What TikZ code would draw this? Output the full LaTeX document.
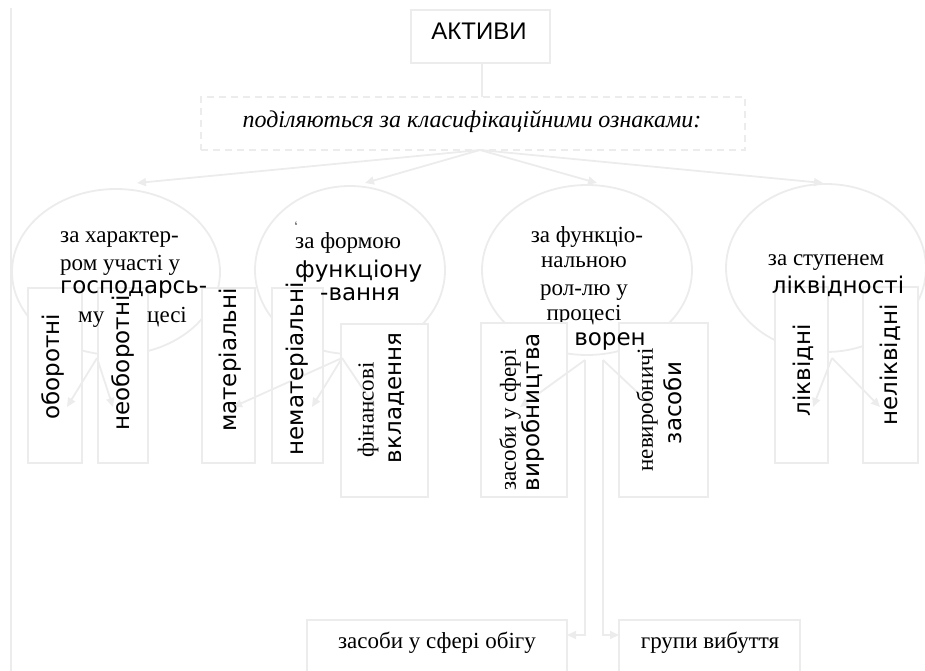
\documentclass[tikz,border=0pt]{standalone}
\usepackage{fontspec}
\setmainfont{Liberation Serif}
\newfontfamily\dvs{DejaVu Sans}
\newfontfamily\lsans{Liberation Sans}
\usetikzlibrary{shapes.geometric,arrows.meta}
\definecolor{lc}{RGB}{236,236,236}
\begin{document}
\begin{tikzpicture}[x=1pt,y=-1pt,
  ln/.style={draw=lc,line width=1.8pt},
  arr/.style={ln,-{Triangle[length=9pt,width=8pt]}},
  bx/.style={draw=lc,line width=1.8pt,fill=white,inner sep=0pt,outer sep=0pt,anchor=north west},
  oval/.style={ellipse,draw=lc,line width=1.8pt,fill=white,inner sep=0pt},
  se/.style={font=\fontsize{23}{26}\selectfont,inner sep=0pt},
  sa/.style={font=\dvs\fontsize{23}{26}\selectfont,inner sep=0pt},
  rt/.style={rotate=90}
]
\useasboundingbox (0,0) rectangle (925,671);
% left faint line
\coordinate (lt) at (11,8);
\coordinate (lb) at (11,671);
\draw[ln] (lt) -- (lb);
% top
\node[bx,minimum width=139pt,minimum height=53pt] (akt) at (411,10) {};
\node[font=\lsans\fontsize{24}{28}\selectfont,inner sep=0pt,anchor=base] (aktt) at (479,40) {АКТИВИ};
\node[bx,dashed,dash pattern=on 7pt off 5pt,minimum width=544pt,minimum height=53pt] (cls) at (201,97) {};
\node[font=\itshape\fontsize{24}{28}\selectfont,inner sep=0pt,anchor=base] (clst) at (472,128) {поділяються за класифікаційними ознаками:};
\draw[ln] (akt.south -| 482,0) -- (cls.north -| 482,0);
% ellipses
\node[oval,minimum width=208pt,minimum height=166pt] (e1) at (116,272) {};
\node[oval,minimum width=190pt,minimum height=168pt] (e2) at (350,270) {};
\node[oval,minimum width=210pt,minimum height=170pt] (e3) at (587,270) {};
\node[oval,minimum width=200pt,minimum height=168pt] (e4) at (826,268) {};
% top arrows
\coordinate (t0) at (480,150);
\coordinate (a1) at (137,183);
\coordinate (a2) at (365,183);
\coordinate (a3) at (597,183);
\coordinate (a4) at (823,183);
\draw[arr] (t0) -- (a1);
\draw[arr] (t0) -- (a2);
\draw[arr] (t0) -- (a3);
\draw[arr] (t0) -- (a4);
% ellipse texts (serif)
\node[se,anchor=base west] (e1a) at (60,242) {за характер-};
\node[se,anchor=base west] (e1b) at (60,270) {ром участі у};
\node[font=\fontsize{5}{6}\selectfont,inner sep=0pt,anchor=base] (six) at (296,225) {6};
\node[se,anchor=base west] (e2a) at (295,248) {за формою};
\node[se,anchor=base] (e3a) at (587,242) {за функціо-};
\node[se,anchor=base] (e3b) at (584,267) {нальною};
\node[se,anchor=base] (e3c) at (584,295) {рол-лю у};
\node[se,anchor=base] (e3d) at (584,320) {процесі};
\node[se,anchor=base] (e4a) at (826,265) {за ступенем};
% boxes
\node[bx,minimum width=54pt,minimum height=175pt] (b1) at (28,288) {};
\node[bx,minimum width=50pt,minimum height=175pt] (b2) at (98,288) {};
\node[bx,minimum width=53pt,minimum height=175pt] (b3) at (202,288) {};
\node[bx,minimum width=51pt,minimum height=175pt] (b4) at (272,288) {};
\node[bx,minimum width=87pt,minimum height=173pt] (b5) at (341,324) {};
\node[bx,minimum width=86pt,minimum height=174pt] (b6) at (481,323) {};
\node[bx,minimum width=89pt,minimum height=174pt] (b7) at (619,323) {};
\node[bx,minimum width=53pt,minimum height=176pt] (b8) at (775,287) {};
\node[bx,minimum width=55pt,minimum height=176pt] (b9) at (863,287) {};
\node[bx,minimum width=260pt,minimum height=60pt] (b10) at (307,620) {};
\node[bx,minimum width=181pt,minimum height=60pt] (b11) at (619,620) {};
% inner connectors
\coordinate (s1) at (97,358);
\coordinate (p1) at (67,407);
\coordinate (p2) at (113,407);
\draw[arr] (s1) -- (p1);
\draw[arr] (s1) -- (p2);
\coordinate (s2) at (342,358);
\coordinate (p3) at (233,407);
\coordinate (p4) at (312,407);
\coordinate (p5) at (375,407);
\draw[arr] (s2) -- (p3);
\draw[arr] (s2) -- (p4);
\draw[arr] (s2) -- (p5);
\coordinate (s3) at (585,360);
\coordinate (s3b) at (603,360);
\coordinate (p6) at (520,407);
\coordinate (p7) at (653,407);
\draw[arr] (s3) -- (p6);
\draw[arr] (s3b) -- (p7);
\draw[arr] (s3) -- (585,635) -- (b10.east |- 0,635);
\draw[arr] (s3b) -- (603,635) -- (b11.west |- 0,635);
\coordinate (s4) at (832,358);
\coordinate (p8) at (813,407);
\coordinate (p9) at (880,407);
\draw[arr] (s4) -- (p8);
\draw[arr] (s4) -- (p9);
% rotated texts
\node[sa,rt] (t1) at (53,367) {оборотні};
\node[sa,rt] (t2) at (123,363) {необоротні};
\node[sa,rt] (t3) at (230,360) {матеріальні};
\node[sa,rt] (t4) at (297,369) {нематеріальні};
\node[se,rt] (t5a) at (368,410) {фінансові};
\node[sa,rt] (t5b) at (397,398) {вкладення};
\node[se,rt] (t6a) at (510,420) {засоби у сфері};
\node[sa,rt] (t6b) at (533,412) {виробництва};
\node[se,rt] (t7a) at (647,410) {невиробничі};
\node[sa,rt] (t7b) at (673,403) {засоби};
\node[sa,rt] (t8) at (803,370) {ліквідні};
\node[sa,rt] (t9) at (890,365) {неліквідні};
% fragments on top
\node[se,anchor=base west] (e1d) at (78,322) {му};
\node[se,anchor=base west] (e1e) at (147,322) {цесі};
\node[sa,anchor=base west] (e1c) at (60,293) {господарсь-};
\node[sa,anchor=base west] (e2b) at (295,277) {функціону};
\node[sa,anchor=base west] (e2c) at (320,300) {-вання};
\node[sa,anchor=base] (e3e) at (610,345) {ворен};
\node[sa,anchor=base] (e4b) at (838,293) {ліквідності};
% bottom texts
\node[se,anchor=base] (t10) at (437,648) {засоби у сфері обігу};
\node[se,anchor=base] (t11) at (710,648) {групи вибуття};
\end{tikzpicture}
\end{document}
